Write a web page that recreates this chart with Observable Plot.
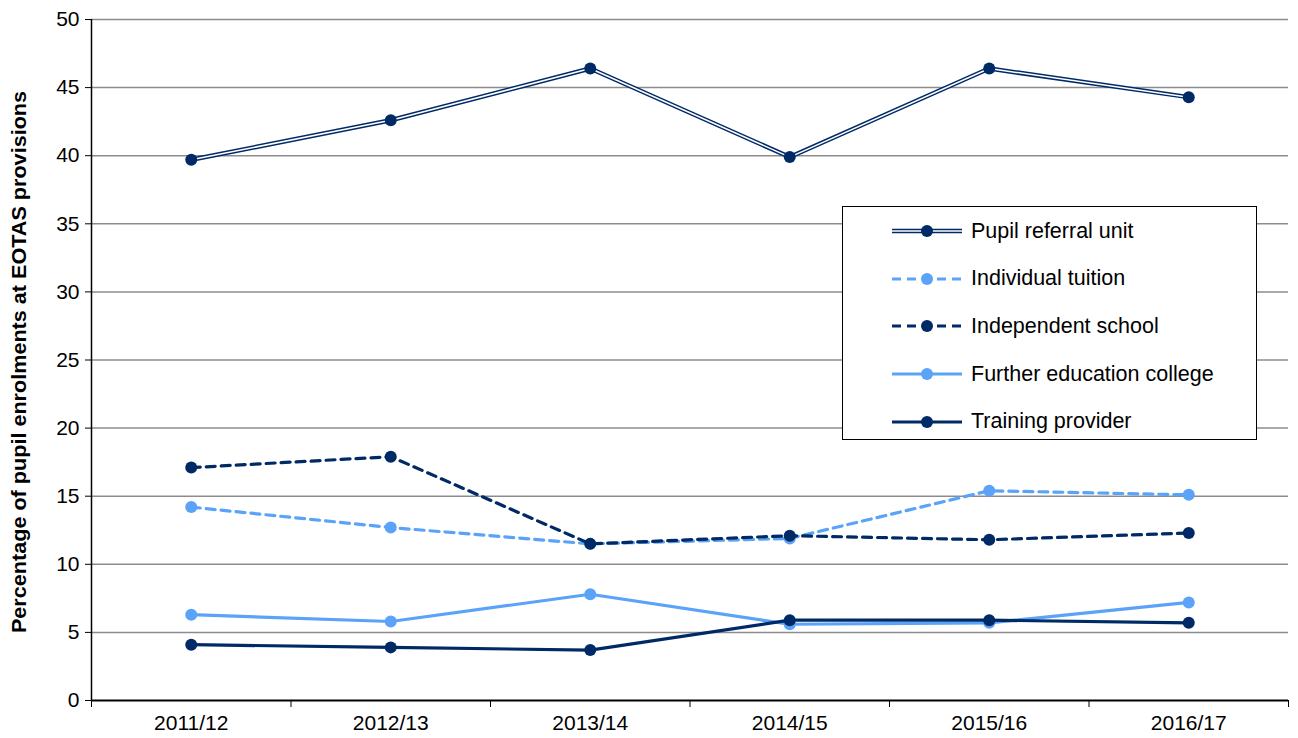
<!DOCTYPE html>
<html>
<head>
<meta charset="utf-8">
<script src="https://cdn.jsdelivr.net/npm/d3@7"></script>
<script src="https://cdn.jsdelivr.net/npm/@observablehq/plot@0.6"></script>
<style>
  html, body { margin: 0; padding: 0; background: #fff; }
  #wrap { position: relative; width: 1298px; height: 738px; font-family: "Liberation Sans", Arial, sans-serif; }
  #legend { position: absolute; left: 842px; top: 206px; width: 413px; height: 232px; border: 1.5px solid #000; background: #fff; }
  .item { position: absolute; left: 48px; height: 26px; display: flex; align-items: center; font-size: 21.5px; color: #000; }
  .item svg { margin-right: 8px; }
</style>
</head>
<body>
<div id="wrap"></div>
<script>
const years = ["2011/12", "2012/13", "2013/14", "2014/15", "2015/16", "2016/17"];
const pupilReferral = [39.7, 42.6, 46.4, 39.9, 46.4, 44.3];
const individualTuition = [14.2, 12.7, 11.5, 11.9, 15.4, 15.1];
const independentSchool = [17.1, 17.9, 11.5, 12.1, 11.8, 12.3];
const furtherEducation = [6.3, 5.8, 7.8, 5.6, 5.7, 7.2];
const trainingProvider = [4.1, 3.9, 3.7, 5.9, 5.9, 5.7];
const yTicks = [0, 5, 10, 15, 20, 25, 30, 35, 40, 45, 50];

const NAVY = "#002a66";
const LIGHT = "#5ba3f8";

const seriesDefs = [
  {name: "Pupil referral unit", values: pupilReferral, color: NAVY, dash: null, double: true},
  {name: "Individual tuition", values: individualTuition, color: LIGHT, dash: "9,6"},
  {name: "Independent school", values: independentSchool, color: NAVY, dash: "9,6"},
  {name: "Further education college", values: furtherEducation, color: LIGHT, dash: null},
  {name: "Training provider", values: trainingProvider, color: NAVY, dash: null}
];

const toRows = (s) => s.values.map((v, i) => ({i, year: years[i], value: v, series: s.name}));
const idx = years.map((_, i) => i);
const bounds = d3.range(years.length + 1).map(i => i - 0.5);

const marks = [
  Plot.ruleY(yTicks.filter(t => t > 0), {y: d => d, stroke: "#8c8c8c", strokeWidth: 1.5, strokeOpacity: 1}),
  Plot.axisY({ticks: yTicks, tickSize: 6, tickPadding: 6, fontSize: 21, label: null, stroke: "#000"}),
  Plot.axisX({ticks: bounds, tickSize: 7, tickFormat: () => "", label: null, stroke: "#000"}),
  Plot.axisX({ticks: idx, tickSize: 0, tickPadding: 15, tickFormat: i => years[i], fontSize: 21, label: null}),
  Plot.ruleX([-0.5], {stroke: "#000", strokeWidth: 1.5}),
  Plot.ruleY([0], {stroke: "#000", strokeWidth: 2})
];

for (const s of seriesDefs) {
  const rows = toRows(s);
  if (s.double) {
    marks.push(Plot.line(rows, {x: "i", y: "value", stroke: s.color, strokeWidth: 4.5}));
    marks.push(Plot.line(rows, {x: "i", y: "value", stroke: "#fff", strokeWidth: 1.5}));
  } else {
    marks.push(Plot.line(rows, {x: "i", y: "value", stroke: s.color, strokeWidth: 3.2, strokeDasharray: s.dash ?? undefined}));
  }
  marks.push(Plot.dot(rows, {x: "i", y: "value", fill: s.color, r: 6}));
}

const chart = Plot.plot({
  width: 1298,
  height: 738,
  marginLeft: 91,
  marginRight: 10,
  marginTop: 19,
  marginBottom: 38,
  style: {fontFamily: "Liberation Sans, Arial, sans-serif", fontSize: "21px", color: "#000", background: "#fff"},
  x: {type: "linear", domain: [-0.5, years.length - 0.5], axis: null},
  y: {domain: [0, 50], axis: null},
  marks
});

const wrap = document.getElementById("wrap");
wrap.appendChild(chart);

// Y-axis title
const title = document.createElement("div");
title.textContent = "Percentage of pupil enrolments at EOTAS provisions";
Object.assign(title.style, {
  position: "absolute", left: "19px", top: "362px", transform: "translate(-50%, -50%) rotate(-90deg) scaleX(1.08)",
  whiteSpace: "nowrap", fontFamily: "'Liberation Sans', Arial, sans-serif",
  fontWeight: "bold", fontSize: "20px", color: "#000"
});
wrap.appendChild(title);

// Legend
const legend = document.createElement("div");
legend.id = "legend";
seriesDefs.forEach((s, k) => {
  const it = document.createElement("div");
  it.className = "item";
  it.style.top = (11 + k * 47.7) + "px";
  const sw = d3.create("svg").attr("width", 72).attr("height", 16);
  if (s.double) {
    sw.append("line").attr("x1", 1).attr("x2", 71).attr("y1", 8).attr("y2", 8).attr("stroke", s.color).attr("stroke-width", 4.5);
    sw.append("line").attr("x1", 1).attr("x2", 71).attr("y1", 8).attr("y2", 8).attr("stroke", "#fff").attr("stroke-width", 1.5);
  } else {
    sw.append("line").attr("x1", 1).attr("x2", 71).attr("y1", 8).attr("y2", 8).attr("stroke", s.color).attr("stroke-width", 3.2).attr("stroke-dasharray", s.dash);
  }
  sw.append("circle").attr("cx", 36).attr("cy", 8).attr("r", 6).attr("fill", s.color);
  it.appendChild(sw.node());
  const t = document.createElement("span");
  t.textContent = s.name;
  it.appendChild(t);
  legend.appendChild(it);
});
wrap.appendChild(legend);
</script>
</body>
</html>
